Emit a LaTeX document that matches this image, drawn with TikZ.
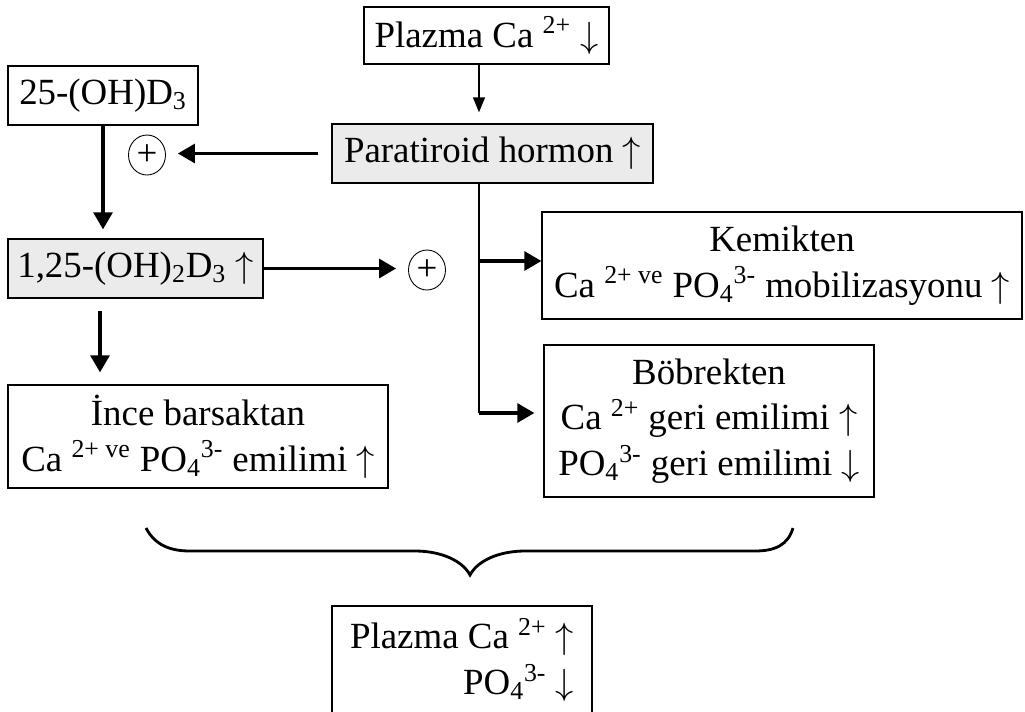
\documentclass[tikz,border=0pt]{standalone}
\usepackage{fontspec}
\setmainfont{Liberation Serif}
\usepackage{tikz}
\usetikzlibrary{arrows.meta}
\newcommand{\arrup}{$\uparrow$}
\newcommand{\arrdn}{$\downarrow$}
\newcommand{\caion}[1]{Ca \textsuperscript{#1}}
\newcommand{\phos}{PO\textsubscript{4}\textsuperscript{3-}}
\tikzset{
  box/.style={draw,line width=0.8pt,inner sep=0pt,align=center},
  shaded/.style={box,fill=gray!16},
  plus/.style={draw,ellipse,line width=0.5pt,minimum width=0.74cm,minimum height=0.8cm,inner sep=0pt},
  thinarrow/.style={line width=0.9pt,-{Triangle[length=0.3cm,width=0.24cm]}},
  thickarrow/.style={line width=1.8pt,-{Triangle[length=0.34cm,width=0.38cm]}},
  trunk/.style={line width=0.9pt},
  bracepen/.style={line width=1.6pt}
}
\usetikzlibrary{shapes.geometric}

\begin{document}
\begin{tikzpicture}[x=0.02cm,y=-0.02cm,font=\fontsize{21}{26}\selectfont]
  \useasboundingbox (0,0) rectangle (1025,711);
  % boxes
  \node[box,minimum width=4.9cm,minimum height=1.14cm] (plazmaD) at (486.5,35.5)
    {Plazma \caion{2+} \arrdn};
  \node[box,minimum width=3.8cm,minimum height=1.18cm] (ohd) at (103,95.5)
    {25-(OH)D\textsubscript{3}};
  \node[shaded,minimum width=6.42cm,minimum height=1.18cm] (pth) at (492.5,153.5)
    {Paratiroid hormon \arrup};
  \node[plus] (plusL) at (147,155) {+};
  \node[shaded,minimum width=5.1cm,minimum height=1.18cm] (diol) at (135.5,268.5)
    {1,25-(OH)\textsubscript{2}D\textsubscript{3} \arrup};
  \node[plus] (plusR) at (427,270) {+};
  \node[box,minimum width=7.6cm,minimum height=2.06cm] (ince) at (198,436.5)
    {İnce barsaktan\\ \caion{2+ ve} \phos{} emilimi \arrup};
  \node[box,minimum width=9.6cm,minimum height=2.14cm] (kemik) at (782,265.5)
    {Kemikten\\ \caion{2+ ve} \phos{} mobilizasyonu \arrup};
  \node[box,minimum width=6.6cm,minimum height=3.04cm] (bobrek) at (709,421)
    {Böbrekten\\ \caion{2+} geri emilimi \arrup\\ \phos{} geri emilimi \arrdn};
  \node[box,minimum width=5.2cm,minimum height=2.16cm,align=right] (plazmaU) at (462,660)
    {Plazma \caion{2+} \arrup\\ \phos{} \arrdn};

  % connectors
  \coordinate (split) at (479,183);
  \coordinate (tokemik) at (479,261);
  \coordinate (tobobrek) at (479,413);
  \draw[thinarrow,shorten >=0.22cm] (plazmaD.south -| split) -- (pth.north -| split);
  \draw[thickarrow,shorten <=0.26cm,shorten >=0.24cm] (pth.west) -- (pth.west -| plusL.east);
  \draw[thickarrow,shorten >=0.18cm] (ohd.south) -- (ohd.south |- diol.north);
  \draw[thickarrow,shorten >=0.24cm] (diol.east) -- (diol.east -| plusR.west);
  \draw[thickarrow,shorten <=0.24cm,shorten >=0.24cm] ([xshift=-0.06cm]ohd.south |- diol.south)
    -- ([xshift=-0.06cm]ohd.south |- ince.north);
  \draw[trunk] (split) -- (tobobrek);
  \draw[thickarrow] (tokemik) -- (tokemik -| kemik.west);
  \draw[thickarrow,shorten >=0.18cm] (tobobrek) -- (tobobrek -| bobrek.west);

  % brace
  \coordinate (braceL) at (146,528);
  \coordinate (braceTip) at (470,575);
  \coordinate (braceR) at (793,528);
  \draw[bracepen] (braceL) .. controls (155,545) and (170,551) .. (190,551) -- (415,551)
    .. controls (440,551) and (462,560) .. (braceTip)
    .. controls (478,560) and (500,551) .. (525,551) -- (755,551)
    .. controls (775,551) and (788,545) .. (braceR);
\end{tikzpicture}
\end{document}
